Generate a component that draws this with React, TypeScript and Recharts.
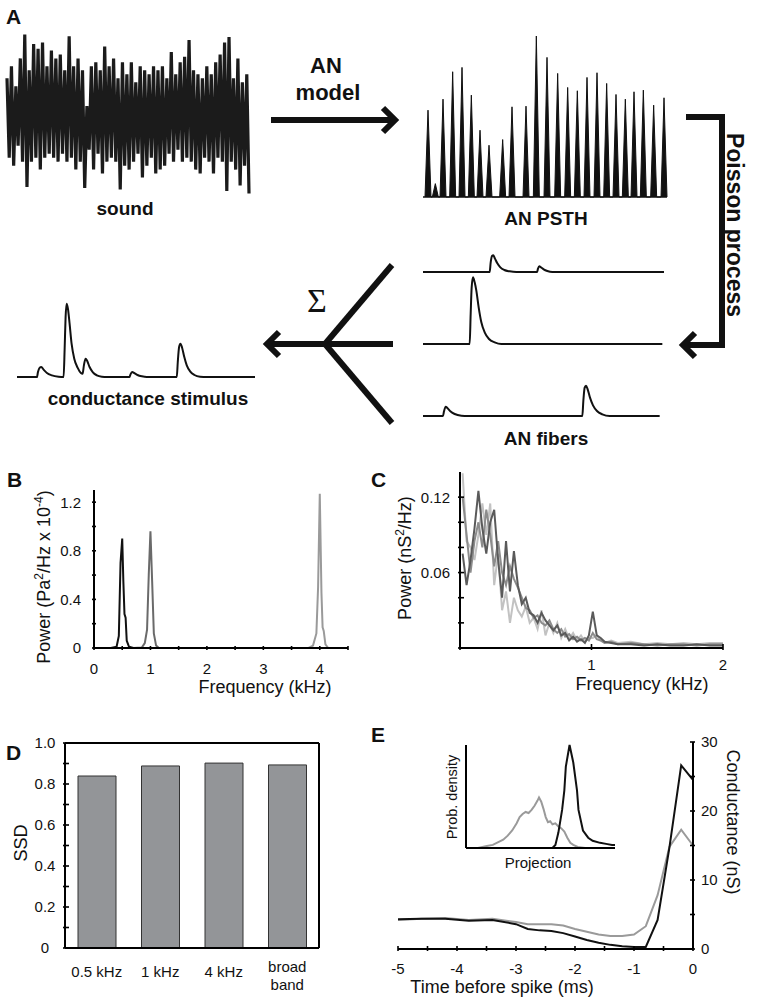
import React from 'react';
import {
  LineChart,
  Line,
  AreaChart,
  Area,
  BarChart,
  Bar,
  XAxis,
  YAxis,
  ReferenceLine,
} from 'recharts';

const SANS = '"Liberation Sans", Arial, Helvetica, sans-serif';
const SERIF = '"Liberation Serif", "DejaVu Serif", serif';

// ---- panel A: schematic ----

// sound waveform, +-1 is the full height of the noise band
const SOUND = [
  0.45, -0.55, 0.6, -0.65, 0.35, -0.4, 0.7, -0.6, 1.0, -0.92,
  0.55, -0.6, 0.88, -0.55, 0.82, -0.7, 0.9, -0.55, 0.6, -0.5,
  0.8, -0.55, 0.7, -0.6, 0.75, -0.5, 0.55, -0.6, 0.98, -0.55,
  0.6, -0.7, 0.7, -0.6, 0.55, -0.93, 0.1, -0.45, 0.6, -0.7,
  0.65, -0.5, 0.55, -0.75, 0.85, -0.6, 0.6, -0.55, 0.7, -0.6,
  0.45, -0.95, 0.65, -0.65, 0.5, -0.7, 0.65, -0.6, 0.4, -0.5,
  0.6, -0.8, 0.55, -0.65, 0.5, -0.55, 0.6, -0.75, 0.55, -0.7,
  0.6, -0.65, 0.45, -0.5, 0.78, -0.6, 0.5, -0.45, 0.65, -0.6,
  0.72, -0.55, 0.93, -0.6, 0.55, -0.7, 0.5, -0.75, 0.45, -0.55,
  0.6, -0.6, 0.5, -0.75, 0.65, -0.55, 0.75, -0.6, 0.9, -0.97,
  0.97, -0.6, 0.45, -0.7, 0.7, -0.9, 0.4, -0.65, 0.5, -1.0,
];

// AN PSTH peaks: position and height (schematic units)
const PSTH_POS = [145, 167, 190, 219, 247, 275, 301, 328, 369, 397, 439, 470, 502, 534, 564, 593, 622, 652, 681, 709, 737, 763, 791, 822, 853];
const PSTH_HEIGHT = [260, 40, 293, 375, 388, 305, 200, 155, 172, 270, 272, 482, 418, 370, 328, 318, 358, 372, 340, 307, 293, 315, 320, 275, 297];

// AN fiber traces and summed conductance, [time, value]
const FIBER_1 = [[130, 0], [330, 0], [333, 28], [337, 48], [341, 50], [346, 40], [353, 26], [362, 14], [374, 6], [390, 2], [410, 0], [472, 0], [475, 10], [479, 17], [484, 14], [492, 8], [503, 3], [518, 0], [853, 0]];
const FIBER_2 = [[130, 0], [270, 0], [273, 90], [276, 170], [280, 200], [285, 185], [290, 160], [297, 110], [305, 65], [315, 35], [328, 15], [345, 5], [365, 0], [848, 0]];
const FIBER_3 = [[130, 0], [190, 0], [193, 14], [198, 28], [203, 24], [212, 14], [225, 6], [245, 1], [265, 0], [608, 0], [611, 45], [615, 85], [619, 91], [624, 80], [631, 55], [640, 32], [652, 15], [668, 5], [690, 0], [840, 0]];
const STIMULUS = [[50, 0], [110, 0], [113, 15], [118, 28], [123, 30], [130, 22], [140, 12], [155, 5], [175, 1], [190, 0], [193, 80], [196, 180], [199, 220], [203, 205], [208, 160], [214, 100], [222, 55], [232, 28], [242, 12], [247, 10], [251, 35], [256, 55], [261, 48], [268, 30], [278, 14], [290, 5], [305, 1], [320, 0], [388, 0], [391, 8], [396, 15], [402, 12], [412, 6], [425, 2], [440, 0], [530, 0], [533, 45], [537, 90], [541, 100], [546, 88], [552, 62], [560, 35], [570, 17], [583, 6], [600, 1], [620, 0], [765, 0]];

// ---- panel B: sound power spectra ----
const B_BLACK_F = [0, 0.3, 0.4, 0.44, 0.47, 0.5, 0.52, 0.54, 0.56, 0.58, 0.62, 0.7];
const B_BLACK_P = [0, 0, 0.01, 0.1, 0.7, 0.9, 0.55, 0.28, 0.25, 0.06, 0.01, 0];
const B_DARK_F = [0.7, 0.85, 0.9, 0.94, 0.97, 1.0, 1.03, 1.06, 1.1, 1.15, 1.3];
const B_DARK_P = [0, 0.005, 0.04, 0.15, 0.6, 0.96, 0.55, 0.12, 0.02, 0, 0];
const B_LIGHT_F = [0, 3.8, 3.88, 3.94, 3.97, 4.0, 4.03, 4.05, 4.07, 4.1, 4.15, 4.5];
const B_LIGHT_P = [0, 0, 0.02, 0.12, 0.5, 1.27, 0.45, 0.17, 0.14, 0.03, 0, 0];

// ---- panel C: conductance power spectra ----
const C_FREQ = [0.02, 0.05, 0.08, 0.11, 0.14, 0.17, 0.2, 0.23, 0.26, 0.29, 0.32, 0.35, 0.38, 0.41, 0.44, 0.47, 0.5, 0.53, 0.56, 0.59, 0.62, 0.65, 0.68, 0.71, 0.74, 0.77, 0.8, 0.83, 0.86, 0.89, 0.92, 0.95, 0.98, 1.01, 1.04, 1.07, 1.1, 1.15, 1.2, 1.3, 1.4, 1.5, 1.6, 1.7, 1.8, 1.9, 2.0];
const C_DARK = [0.075, 0.05, 0.07, 0.095, 0.125, 0.095, 0.075, 0.1, 0.11, 0.07, 0.04, 0.085, 0.045, 0.077, 0.05, 0.035, 0.04, 0.028, 0.026, 0.02, 0.028, 0.022, 0.018, 0.014, 0.018, 0.01, 0.012, 0.006, 0.009, 0.005, 0.007, 0.004, 0.01, 0.029, 0.01, 0.008, 0.005, 0.004, 0.003, 0.003, 0.002, 0.003, 0.002, 0.002, 0.003, 0.002, 0.002];
const C_MID = [0.12, 0.09, 0.06, 0.085, 0.1, 0.08, 0.11, 0.09, 0.065, 0.085, 0.06, 0.05, 0.065, 0.055, 0.048, 0.04, 0.032, 0.03, 0.024, 0.026, 0.02, 0.018, 0.022, 0.015, 0.012, 0.015, 0.009, 0.011, 0.007, 0.009, 0.006, 0.008, 0.006, 0.012, 0.007, 0.006, 0.004, 0.005, 0.003, 0.004, 0.003, 0.002, 0.003, 0.003, 0.002, 0.003, 0.003];
const C_LIGHT = [0.139, 0.085, 0.08, 0.07, 0.09, 0.115, 0.09, 0.115, 0.05, 0.075, 0.03, 0.045, 0.02, 0.04, 0.03, 0.025, 0.033, 0.02, 0.024, 0.015, 0.03, 0.01, 0.02, 0.012, 0.02, 0.008, 0.015, 0.007, 0.012, 0.006, 0.01, 0.005, 0.008, 0.008, 0.01, 0.006, 0.004, 0.006, 0.004, 0.005, 0.003, 0.004, 0.003, 0.004, 0.003, 0.004, 0.004];

// ---- panel D: SSD per stimulus ----
const D_LABELS = ['0.5 kHz', '1 kHz', '4 kHz', 'broad band'];
const D_SSD = [0.839, 0.888, 0.902, 0.893];

// ---- panel E: spike-triggered conductance ----
const E_TIME = [-5, -4.6, -4.2, -3.8, -3.4, -3.0, -2.8, -2.6, -2.4, -2.2, -2.0, -1.8, -1.6, -1.4, -1.2, -1.0, -0.8, -0.6, -0.4, -0.2, 0];
const E_BLACK = [4.3, 4.4, 4.4, 4.1, 4.2, 3.6, 2.9, 2.7, 2.6, 2.3, 1.8, 1.3, 0.9, 0.6, 0.4, 0.3, 0.3, 4.2, 14.7, 26.6, 24.5];
const E_GRAY = [4.2, 4.4, 4.5, 4.2, 4.4, 3.9, 3.6, 3.6, 3.6, 3.4, 2.9, 2.5, 2.1, 1.9, 1.9, 2.1, 3.3, 7.8, 14.8, 17.3, 15.0];

// inset: projection histograms
const IN_GRAY_X = [0, 8, 14, 18, 22, 25, 28, 31, 34, 36, 38, 40, 42, 44, 46, 48, 49, 50.5, 52, 53.5, 55, 56.5, 58, 60, 62, 64, 66, 68, 70, 72, 75, 80, 100];
const IN_GRAY_Y = [0, 0, 0.02, 0.03, 0.06, 0.08, 0.12, 0.17, 0.24, 0.3, 0.33, 0.35, 0.34, 0.37, 0.41, 0.46, 0.49, 0.45, 0.38, 0.3, 0.25, 0.26, 0.23, 0.24, 0.21, 0.19, 0.16, 0.1, 0.05, 0.03, 0.01, 0, 0];
const IN_BLACK_X = [0, 58, 60, 62, 64.5, 66, 67, 69.5, 72, 74.5, 75.5, 78.5, 82, 85, 90, 94, 98, 100];
const IN_BLACK_Y = [0, 0, 0.03, 0.15, 0.37, 0.56, 0.79, 1.0, 0.83, 0.56, 0.37, 0.17, 0.1, 0.07, 0.05, 0.04, 0.03, 0.03];

const box = (left: number, top: number): React.CSSProperties => ({ position: 'absolute', left, top });
const pairs = (pts: number[][]) => pts.map(([t, v]) => ({ t, v }));
const zipXY = (xs: number[], ys: number[]) => xs.map((x, i) => ({ x, y: ys[i] }));

const axisLine = { stroke: '#000', strokeWidth: 2 };

interface TickCfg {
  side: 'bottom' | 'left' | 'right';
  len: number;
  gap: number;
  size?: number;
  anchor?: 'start' | 'middle' | 'end';
  label: (v: number) => string | null;
}

// ticks drawn on the inside of the axis, label outside
const inwardTick = (cfg: TickCfg) => (props: any) => {
  const { x, y, payload } = props;
  const text = cfg.label(payload.value);
  const fs = cfg.size ?? 15;
  if (cfg.side === 'bottom') {
    return (
      <g>
        <line x1={x} x2={x} y1={y} y2={y - cfg.len} stroke="#000" strokeWidth={1.6} />
        {text !== null && (
          <text x={x} y={y + cfg.gap} textAnchor="middle" fontSize={fs} fontFamily={SANS} fill="#111">
            {text}
          </text>
        )}
      </g>
    );
  }
  const dir = cfg.side === 'left' ? 1 : -1;
  return (
    <g>
      <line x1={x} x2={x + dir * cfg.len} y1={y} y2={y} stroke="#000" strokeWidth={1.6} />
      {text !== null && (
        <text
          x={x - dir * cfg.gap}
          y={y}
          dy="0.36em"
          textAnchor={cfg.anchor ?? (cfg.side === 'left' ? 'end' : 'start')}
          fontSize={fs}
          fontFamily={SANS}
          fill="#111"
        >
          {text}
        </text>
      )}
    </g>
  );
};

const onlyIn = (list: number[], fmt: (v: number) => string) => (v: number) =>
  list.includes(v) ? fmt(v) : null;

const Trace = ({ pts, left, top, width, height, domain, ymax, ml, mr }: any) => (
  <div style={box(left, top)}>
    <LineChart width={width} height={height} data={pairs(pts)} margin={{ top: 5, right: mr, bottom: 5, left: ml }}>
      <XAxis type="number" dataKey="t" domain={domain} hide />
      <YAxis type="number" domain={[0, ymax]} hide />
      <Line type="monotone" dataKey="v" stroke="#111" strokeWidth={2} dot={false} activeDot={false} isAnimationActive={false} />
    </LineChart>
  </div>
);

const dCategoryTick = (props: any) => {
  const { x, y, payload } = props;
  const style = { fontSize: 15, fontFamily: SANS, fill: '#111' };
  if (payload.value === 'broad band') {
    return (
      <g>
        <text x={x} y={y + 22} textAnchor="middle" {...style}>broad</text>
        <text x={x} y={y + 40} textAnchor="middle" {...style}>band</text>
      </g>
    );
  }
  return (
    <text x={x} y={y + 27} textAnchor="middle" {...style}>
      {payload.value}
    </text>
  );
};

export default function App() {
  const soundData = SOUND.map((v, i) => ({ i, v }));
  const psthData = PSTH_POS.flatMap((p, i) => [
    { t: p - 9, v: 0 },
    { t: p, v: PSTH_HEIGHT[i] },
    { t: p + 9, v: 0 },
  ]);
  const cData = C_FREQ.map((f, i) => ({ f, dark: C_DARK[i], mid: C_MID[i], light: C_LIGHT[i] }));
  const dData = D_LABELS.map((name, i) => ({ name, ssd: D_SSD[i] }));
  const eData = E_TIME.map((t, i) => ({ t, black: E_BLACK[i], gray: E_GRAY[i] }));

  const label = { fontFamily: SANS, fill: '#111' };
  const bold = { fontFamily: SANS, fontWeight: 700, fill: '#111' };

  return (
    <div style={{ position: 'absolute', left: 0, top: 0, width: 757, height: 1005, background: '#fff', overflow: 'hidden' }}>
      {/* A: sound */}
      <div style={box(0, 30)}>
        <LineChart width={260} height={170} data={soundData} margin={{ top: 3, right: 11, bottom: 5, left: 7 }}>
          <XAxis type="number" dataKey="i" domain={[0, SOUND.length - 1]} hide />
          <YAxis type="number" domain={[-1.02, 1.02]} hide />
          <Line type="linear" dataKey="v" stroke="#1b1b1b" strokeWidth={3.2} strokeLinejoin="miter" dot={false} activeDot={false} isAnimationActive={false} />
        </LineChart>
      </div>

      {/* A: AN PSTH */}
      <div style={box(415, 30)}>
        <AreaChart width={260} height={170} data={psthData} margin={{ top: 6, right: 8, bottom: 3, left: 8 }}>
          <XAxis type="number" dataKey="t" domain={[130, 862]} hide />
          <YAxis type="number" domain={[0, 482]} hide />
          <Area type="linear" dataKey="v" stroke="#111" strokeWidth={1} fill="#111" fillOpacity={1} isAnimationActive={false} />
          <ReferenceLine y={0} stroke="#111" strokeWidth={1.5} />
        </AreaChart>
      </div>

      {/* A: AN fibers */}
      <Trace pts={FIBER_1} left={415} top={197} width={260} height={80} domain={[130, 862]} ymax={210} ml={8} mr={8} />
      <Trace pts={FIBER_2} left={415} top={269} width={260} height={80} domain={[130, 862]} ymax={210} ml={8} mr={8} />
      <Trace pts={FIBER_3} left={415} top={341} width={260} height={80} domain={[130, 862]} ymax={210} ml={8} mr={8} />

      {/* A: conductance stimulus */}
      <Trace pts={STIMULUS} left={0} top={297} width={270} height={85} domain={[50, 765]} ymax={225} ml={17} mr={15} />

      {/* B */}
      <div style={box(0, 470)}>
        <LineChart width={360} height={230} margin={{ top: 20, right: 12, bottom: 0, left: 0 }}>
          <XAxis
            type="number"
            dataKey="x"
            domain={[0, 4.5]}
            ticks={[0, 0.5, 1, 1.5, 2, 2.5, 3, 3.5, 4, 4.5]}
            interval={0}
            height={52}
            axisLine={axisLine}
            tickLine={false}
            tickSize={0}
            tick={inwardTick({ side: 'bottom', len: 4, gap: 24, label: onlyIn([0, 1, 2, 3, 4], String) })}
          />
          <YAxis
            type="number"
            domain={[0, 1.3]}
            ticks={[0, 0.2, 0.4, 0.6, 0.8, 1.0, 1.2]}
            interval={0}
            width={94}
            axisLine={axisLine}
            tickLine={false}
            tickSize={0}
            tick={inwardTick({ side: 'left', len: 4, gap: 11, label: onlyIn([0, 0.4, 0.8, 1.2], (v) => (v === 0 ? '0' : v.toFixed(1))) })}
          />
          <Line data={zipXY(B_LIGHT_F, B_LIGHT_P)} dataKey="y" type="linear" stroke="#9a9a9a" strokeWidth={2} dot={false} activeDot={false} isAnimationActive={false} />
          <Line data={zipXY(B_DARK_F, B_DARK_P)} dataKey="y" type="linear" stroke="#6a6a6a" strokeWidth={2} dot={false} activeDot={false} isAnimationActive={false} />
          <Line data={zipXY(B_BLACK_F, B_BLACK_P)} dataKey="y" type="linear" stroke="#111" strokeWidth={2} dot={false} activeDot={false} isAnimationActive={false} />
        </LineChart>
      </div>

      {/* C */}
      <div style={box(380, 455)}>
        <LineChart width={377} height={245} data={cData} margin={{ top: 17, right: 34, bottom: 0, left: 0 }}>
          <XAxis
            type="number"
            dataKey="f"
            domain={[0, 2]}
            ticks={[0, 1, 2]}
            interval={0}
            height={52}
            axisLine={axisLine}
            tickLine={false}
            tickSize={0}
            tick={inwardTick({ side: 'bottom', len: 6, gap: 20, label: onlyIn([1, 2], String) })}
          />
          <YAxis
            type="number"
            domain={[0, 0.14]}
            ticks={[0, 0.02, 0.04, 0.06, 0.08, 0.1, 0.12]}
            interval={0}
            width={80}
            axisLine={axisLine}
            tickLine={false}
            tickSize={0}
            tick={inwardTick({ side: 'left', len: 6, gap: 8, label: onlyIn([0.06, 0.12], (v) => v.toFixed(2)) })}
          />
          <Line dataKey="light" type="linear" stroke="#c2c2c2" strokeWidth={2} dot={false} activeDot={false} isAnimationActive={false} />
          <Line dataKey="mid" type="linear" stroke="#8c8c8c" strokeWidth={2} dot={false} activeDot={false} isAnimationActive={false} />
          <Line dataKey="dark" type="linear" stroke="#5a5a5a" strokeWidth={2} dot={false} activeDot={false} isAnimationActive={false} />
        </LineChart>
      </div>

      {/* D */}
      <div style={box(0, 730)}>
        <BarChart width={340} height={275} data={dData} margin={{ top: 13, right: 0, bottom: 0, left: 0 }}>
          <XAxis dataKey="name" height={57} axisLine={axisLine} tickLine={false} tickSize={0} interval={0} tick={dCategoryTick} />
          <YAxis
            type="number"
            domain={[0, 1]}
            ticks={[0, 0.1, 0.2, 0.3, 0.4, 0.5, 0.6, 0.7, 0.8, 0.9, 1.0]}
            interval={0}
            width={65}
            axisLine={axisLine}
            tickLine={false}
            tickSize={0}
            tick={inwardTick({ side: 'left', len: 6, gap: 18, anchor: 'middle', label: onlyIn([0, 0.2, 0.4, 0.6, 0.8, 1.0], (v) => (v === 0 ? '0' : v.toFixed(1))) })}
          />
          <YAxis
            yAxisId="r"
            orientation="right"
            type="number"
            domain={[0, 1]}
            ticks={[0, 0.1, 0.2, 0.3, 0.4, 0.5, 0.6, 0.7, 0.8, 0.9, 1.0]}
            interval={0}
            width={21}
            axisLine={axisLine}
            tickLine={false}
            tickSize={0}
            tick={inwardTick({ side: 'right', len: 5, gap: 4, label: () => null })}
          />
          <ReferenceLine y={1} stroke="#000" strokeWidth={2} />
          <Bar dataKey="ssd" barSize={38} fill="#939598" stroke="#333" strokeWidth={1} isAnimationActive={false} />
        </BarChart>
      </div>

      {/* E */}
      <div style={box(380, 720)}>
        <LineChart width={377} height={285} data={eData} margin={{ top: 22, right: 0, bottom: 0, left: 18 }}>
          <XAxis
            type="number"
            dataKey="t"
            domain={[-5, 0]}
            ticks={[-5, -4.5, -4, -3.5, -3, -2.5, -2, -1.5, -1, -0.5, 0]}
            interval={0}
            height={56}
            axisLine={axisLine}
            tickLine={false}
            tickSize={0}
            tick={inwardTick({ side: 'bottom', len: 5, gap: 23, label: onlyIn([-5, -4, -3, -2, -1, 0], String) })}
          />
          <YAxis
            orientation="right"
            type="number"
            domain={[0, 30]}
            ticks={[0, 5, 10, 15, 20, 25, 30]}
            interval={0}
            width={64}
            axisLine={axisLine}
            tickLine={false}
            tickSize={0}
            tick={inwardTick({ side: 'right', len: 5, gap: 6, label: onlyIn([0, 10, 20, 30], String) })}
          />
          <Line dataKey="gray" type="linear" stroke="#9a9a9a" strokeWidth={2} dot={false} activeDot={false} isAnimationActive={false} />
          <Line dataKey="black" type="linear" stroke="#111" strokeWidth={2} dot={false} activeDot={false} isAnimationActive={false} />
        </LineChart>
      </div>

      {/* E inset */}
      <div style={box(440, 740)}>
        <LineChart width={180} height={135} margin={{ top: 5, right: 5, bottom: 0, left: 0 }}>
          <XAxis type="number" dataKey="x" domain={[0, 100]} height={27} axisLine={axisLine} tickLine={false} tick={false} />
          <YAxis type="number" domain={[0, 1]} width={26} axisLine={axisLine} tickLine={false} tick={false} />
          <Line data={zipXY(IN_GRAY_X, IN_GRAY_Y)} dataKey="y" type="linear" stroke="#9a9a9a" strokeWidth={2} dot={false} activeDot={false} isAnimationActive={false} />
          <Line data={zipXY(IN_BLACK_X, IN_BLACK_Y)} dataKey="y" type="linear" stroke="#111" strokeWidth={2} dot={false} activeDot={false} isAnimationActive={false} />
        </LineChart>
      </div>

      {/* labels, arrows and titles */}
      <svg width={757} height={1005} style={{ position: 'absolute', left: 0, top: 0, pointerEvents: 'none' }}>
        <g style={bold} fontSize={21}>
          <text x={6} y={24}>A</text>
          <text x={7} y={487}>B</text>
          <text x={371} y={487}>C</text>
          <text x={6} y={760}>D</text>
          <text x={371} y={742}>E</text>
        </g>

        <g style={bold} textAnchor="middle">
          <text x={326} y={73} fontSize={22}>AN</text>
          <text x={328} y={100} fontSize={22}>model</text>
          <text x={125} y={215} fontSize={19}>sound</text>
          <text x={546} y={225} fontSize={19}>AN PSTH</text>
          <text x={546} y={445} fontSize={19}>AN fibers</text>
          <text x={148} y={405} fontSize={19}>conductance stimulus</text>
          <text x={727} y={225} fontSize={23} transform="rotate(90 727 225)">Poisson process</text>
        </g>

        <text x={317} y={312} fontSize={34} fontFamily={SERIF} fill="#111" textAnchor="middle">Σ</text>

        <g stroke="#111" strokeWidth={6} fill="none" strokeLinejoin="miter">
          <line x1={271} y1={120} x2={393} y2={120} />
          <polyline points="383,108 395,120 383,132" />
          <polyline points="686,117 722,117 722,345 686,345" />
          <polyline points="695,333 683,345 695,357" />
          <line x1={325} y1={344} x2={392} y2={265} />
          <line x1={323} y1={344} x2={393} y2={344} />
          <line x1={325} y1={344} x2={392} y2={423} />
          <line x1={327} y1={344} x2={268} y2={344} />
          <polyline points="279,332 267,344 279,356" />
        </g>

        <g style={label} fontSize={18} textAnchor="middle">
          <text x={50} y={577} transform="rotate(-90 50 577)">
            Power (Pa<tspan dy={-7} fontSize={12}>2</tspan>
            <tspan dy={7}>/Hz x 10</tspan>
            <tspan dy={-7} fontSize={12}>-4</tspan>
            <tspan dy={7}>)</tspan>
          </text>
          <text x={265} y={693}>Frequency (kHz)</text>
          <text x={411} y={558} transform="rotate(-90 411 558)">
            Power (nS<tspan dy={-7} fontSize={12}>2</tspan>
            <tspan dy={7}>/Hz)</tspan>
          </text>
          <text x={642} y={690}>Frequency (kHz)</text>
          <text x={27} y={843} transform="rotate(-90 27 843)">SSD</text>
          <text x={502} y={993}>Time before spike (ms)</text>
          <text x={727} y={822} transform="rotate(90 727 822)">Conductance (nS)</text>
          <text x={457} y={797} fontSize={14.5} transform="rotate(-90 457 797)">Prob. density</text>
          <text x={538} y={868} fontSize={15}>Projection</text>
        </g>
      </svg>
    </div>
  );
}
